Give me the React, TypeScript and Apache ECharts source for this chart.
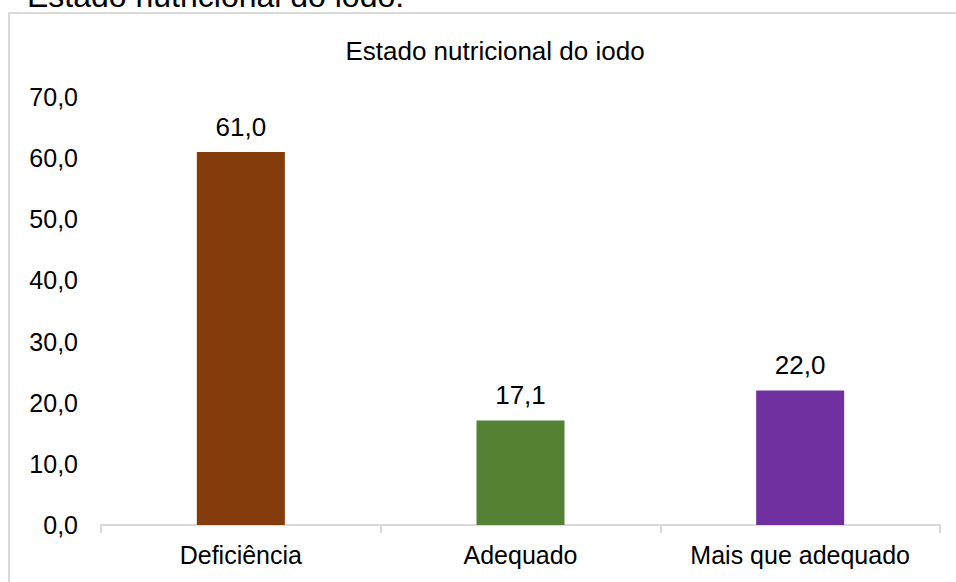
import React, { useEffect, useRef } from "react";
import * as echarts from "echarts";

const categories = ["Deficiência", "Adequado", "Mais que adequado"];
const values = [61.0, 17.1, 22.0];
const barColors = ["#843C0C", "#548235", "#7030A0"];
const yTicks = { min: 0, max: 70, interval: 10 };
const chartTitle = "Estado nutricional do iodo";
const captionText = "Estado nutricional do iodo.";

const fmt = (v: number) => v.toFixed(1).replace(".", ",");
const FONT = "'Liberation Sans', Arial, sans-serif";

export default function App() {
  const ref = useRef<HTMLDivElement>(null);
  useEffect(() => {
    document.body.style.margin = "0";
    const chart = echarts.init(ref.current!, undefined, { renderer: "svg" });
    chart.setOption({
      animation: false,
      backgroundColor: "#ffffff",
      textStyle: { fontFamily: FONT },
      title: {
        text: chartTitle,
        left: 490,
        top: 33,
        textAlign: "center",
        textStyle: { fontFamily: FONT, fontSize: 26, fontWeight: "normal", color: "#000" },
      },
      graphic: [
        {
          type: "rect",
          shape: { x: 9, y: 13, width: 1000, height: 700 },
          style: { fill: "none", stroke: "#d9d9d9", lineWidth: 2 },
          silent: true,
        },
        {
          type: "text",
          x: 27,
          y: -4,
          style: {
            text: captionText,
            fontFamily: FONT,
            fontSize: 32,
            fill: "#000",
            verticalAlign: "middle",
            align: "left",
          },
        },
      ],
      grid: { left: 101, right: 16, top: 97, bottom: 57, containLabel: false },
      xAxis: {
        type: "category",
        data: categories,
        axisLine: { show: true, lineStyle: { color: "#d9d9d9", width: 2 } },
        axisTick: { show: true, length: 8, lineStyle: { color: "#d9d9d9", width: 2 } },
        axisLabel: { interval: 0, hideOverlap: false, margin: 17, fontFamily: FONT, fontSize: 25, color: "#000" },
        splitLine: { show: false },
      },
      yAxis: {
        type: "value",
        min: yTicks.min,
        max: yTicks.max,
        interval: yTicks.interval,
        axisLine: { show: false },
        axisTick: { show: false },
        splitLine: { show: false },
        axisLabel: {
          margin: 23,
          fontFamily: FONT,
          fontSize: 25,
          color: "#000",
          formatter: (v: number) => fmt(v),
        },
      },
      series: [
        {
          type: "bar",
          barWidth: 88,
          data: values.map((v, i) => ({ value: v, itemStyle: { color: barColors[i] } })),
          label: {
            show: true,
            position: "top",
            distance: 12,
            fontFamily: FONT,
            fontSize: 26,
            color: "#000",
            formatter: (p: any) => fmt(p.value),
          },
        },
      ],
    });
    return () => chart.dispose();
  }, []);
  return <div ref={ref} style={{ width: 956, height: 582 }} />;
}
